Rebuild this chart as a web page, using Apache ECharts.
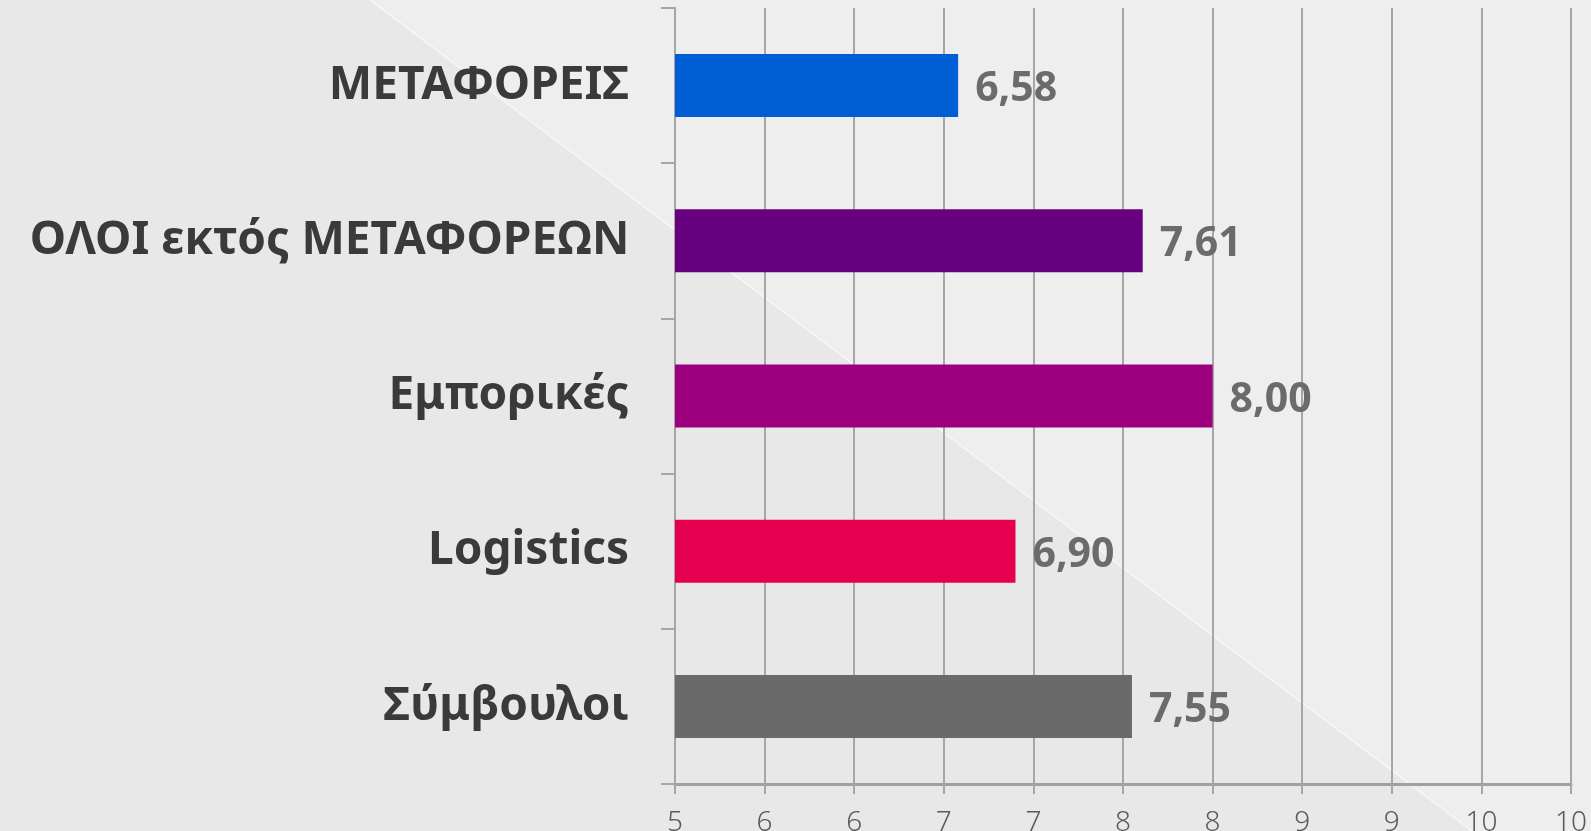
<!DOCTYPE html>
<html>
<head>
	<meta charset="utf-8">
	<title>Bar chart</title>
	<script src="https://cdn.jsdelivr.net/npm/echarts@6/dist/echarts.min.js"></script>
	<style>
		html, body { margin: 0; padding: 0; background: #e8e8e8; }
		#chart { width: 1591px; height: 831px; }
	</style>
</head>
<body>
	<div id="chart"></div>
	<script>
		var categories = ['ΜΕΤΑΦΟΡΕΙΣ', 'ΟΛΟΙ εκτός ΜΕΤΑΦΟΡΕΩΝ', 'Εμπορικές', 'Logistics', 'Σύμβουλοι'];
		var values = [6.58, 7.61, 8.00, 6.90, 7.55];
		var barColors = ['#005ed5', '#66007f', '#9c007e', '#e5004f', '#6a6a6a'];

		var chart = echarts.init(document.getElementById('chart'));
		var W = 1591, H = 831;

		var option = {
			backgroundColor: '#e8e8e8',
			animation: false,
			graphic: [
				{
					type: 'polygon',
					z: -10,
					shape: { points: [[370, 0], [W, 0], [W, H], [1472, H]] },
					style: { fill: '#eeeeee' }
				},
				{
					type: 'polyline',
					z: -9,
					shape: { points: [[370, 0], [1472, H]] },
					style: { stroke: 'rgba(255,255,255,0.7)', lineWidth: 1.2, fill: null }
				}
			],
			grid: {
				left: 675,
				right: 20,
				top: 8,
				bottom: 47,
				containLabel: false,
				outerBoundsMode: 'none'
			},
			xAxis: {
				type: 'value',
				min: 5,
				max: 10,
				interval: 0.5,
				axisLine: { show: true, lineStyle: { color: '#a0a0a0', width: 3 } },
				axisTick: { show: true, length: 10, lineStyle: { color: '#a6a6a6', width: 2 } },
				splitLine: { show: true, lineStyle: { color: '#a6a6a6', width: 2 } },
				axisLabel: {
					color: '#5a5a5a',
					fontFamily: 'Noto Sans',
					fontWeight: 300,
					fontSize: 28,
					margin: 25,
					showMaxLabel: true,
					formatter: function (v) { return String(Math.round(v)); }
				}
			},
			yAxis: {
				type: 'category',
				inverse: true,
				data: categories,
				axisLine: { show: true, lineStyle: { color: '#a6a6a6', width: 2 } },
				axisTick: { show: true, length: 14, inside: false, lineStyle: { color: '#a6a6a6', width: 2 } },
				axisLabel: {
					color: '#3a3a3a',
					fontFamily: 'Noto Sans',
					fontWeight: 'bold',
					fontSize: 46,
					margin: 46,
					padding: [20, 0, 0, 0]
				}
			},
			series: [
				{
					type: 'bar',
					barWidth: 63,
					data: values.map(function (v, i) {
						return { value: v, itemStyle: { color: barColors[i] } };
					}),
					label: {
						show: true,
						position: 'right',
						distance: 17,
						offset: [0, 4],
						color: '#6b6b6b',
						fontFamily: 'Noto Sans',
						fontWeight: 'bold',
						fontSize: 41,
						formatter: function (p) { return p.value.toFixed(2).replace('.', ','); }
					}
				}
			]
		};
		chart.setOption(option);
	</script>
</body>
</html>
